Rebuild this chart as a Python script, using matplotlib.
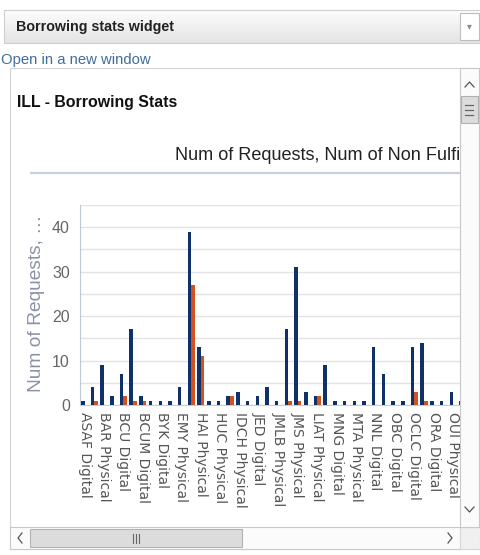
import matplotlib
matplotlib.use("Agg")
import matplotlib.pyplot as plt
import numpy as np
from matplotlib.patches import Rectangle
from matplotlib.colors import LinearSegmentedColormap

# ---------------- data ----------------
categories = [
    "ASAF Digital", "BAR Digital", "BAR Physical", "BCE Physical",
    "BCU Digital", "BCU Physical", "BCUM Digital", "BCUM Physical",
    "BYK Digital", "BYK Physical", "EMY Physical", "HAI Digital",
    "HAI Physical", "HUC Digital", "HUC Physical", "IDCH Digital",
    "IDCH Physical", "IEC Physical", "JED Digital", "JED Physical",
    "JMLB Physical", "JMS Digital", "JMS Physical", "LIAT Digital",
    "LIAT Physical", "MAX Digital", "MNG Digital", "MNG Physical",
    "MTA Physical", "NLI Digital", "NNL Digital", "NNL Physical",
    "OBC Digital", "OBC Physical", "OCLC Digital", "OCLC Physical",
    "ORA Digital", "ORA Physical", "OUI Physical", "PAL Digital",
]
num_requests = [1, 4, 9, 2, 7, 17, 2, 1, 1, 1, 4, 39, 13, 1, 1, 2, 3, 1, 2, 4,
                1, 17, 31, 3, 2, 9, 1, 1, 1, 1, 13, 7, 1, 1, 13, 14, 1, 1, 3, 1]
num_non_fulfilled = [0, 1, 0, 0, 2, 1, 1, 0, 0, 0, 0, 27, 11, 0, 0, 2, 0, 0, 0, 0,
                     0, 1, 1, 0, 2, 0, 0, 0, 0, 0, 0, 0, 0, 0, 3, 1, 0, 0, 0, 0]
y_ticks = [0, 10, 20, 30, 40]

BLUE = "#10306a"
ORANGE = "#d4521f"

W, H = 481, 555
fig = plt.figure(figsize=(W / 100, H / 100), dpi=100)
fig.patch.set_facecolor("white")

SANS = ["Liberation Sans", "DejaVu Sans"]


def px_axes(x0, y0, x1, y1, **kw):
    return fig.add_axes([x0 / W, 1 - y1 / H, (x1 - x0) / W, (y1 - y0) / H], **kw)


# ---------------- background chrome ----------------
bg = fig.add_axes([0, 0, 1, 1], zorder=0)
bg.set_xlim(0, W)
bg.set_ylim(H, 0)
bg.axis("off")

grad = LinearSegmentedColormap.from_list("g", ["#fdfdfd", "#e4e4e4"])
bg.imshow(np.linspace(0, 1, 50).reshape(-1, 1), cmap=grad, aspect="auto",
          extent=(4, 481, 43, 10), zorder=1)
bg.add_patch(Rectangle((4, 10), 477, 33, fc="none", ec="#cfcfcf", lw=0.8, zorder=2))
bg.add_patch(Rectangle((460, 13), 19, 27, fc="white", ec="#bdbdbd", lw=0.8, zorder=3))
bg.text(469.5, 26.5, "▾", ha="center", va="center", fontsize=7, color="#888888", zorder=4)
bg.text(16, 26.5, "Borrowing stats widget", ha="left", va="center", fontsize=10.3,
        fontweight="bold", color="#222222", family=SANS, zorder=4)
bg.text(1, 60, "Open in a new window", ha="left", va="center", fontsize=10.7,
        color="#3f6d9e", family=SANS, zorder=4)

bg.add_patch(Rectangle((10, 68), 470, 481, fc="white", ec="#d3d3d3", lw=0.8, zorder=1))
bg.text(17, 102, "ILL - Borrowing Stats", ha="left", va="center", fontsize=11.4,
        fontweight="bold", color="#111111", family=SANS, zorder=4)
bg.plot([30, 460], [173, 173], color="#c9cfe0", lw=1.6, zorder=4,
        solid_capstyle="butt")

# title clipped by viewport
vp = px_axes(10, 68, 460, 527, zorder=0.5)
vp.set_axis_off()
title = fig.text(175 / W, 1 - 155 / H, "Num of Requests, Num of Non Fulfilled",
                 ha="left", va="center", fontsize=13.1, color="#222222",
                 family=SANS, clip_on=True, zorder=3)
title.set_clip_box(vp.bbox)

# ---------------- chart ----------------
ax = px_axes(79.65, 205, 460, 405, zorder=1)
ax.set_facecolor("none")
x = np.arange(len(categories))
w = 0.37
ax.bar(x - w / 2, num_requests, width=w, color=BLUE, zorder=3)
ax.bar(x + w / 2, num_non_fulfilled, width=w, color=ORANGE, zorder=3)
ax.set_xlim(-0.5, -0.5 + (460 - 79.65) / 9.7)
ax.set_ylim(0, 45)
ax.set_yticks(y_ticks)
ax.set_yticks([5, 15, 25, 35, 45], minor=True)
ax.grid(True, axis="y", which="both", color="#e3e3e3", lw=1, zorder=0)
ax.set_axisbelow(True)
ax.set_yticklabels([str(v) for v in y_ticks], family=SANS, fontsize=11.5,
                   color="#666666")
ax.tick_params(axis="y", which="both", length=0, pad=7)
ax.set_xticks(x[::2])
ax.set_xticklabels(categories[::2], rotation=270, ha="center", va="top",
                   fontsize=10, color="#555555", family="DejaVu Sans")
ax.tick_params(axis="x", length=0, pad=5)
for s in ["top", "right"]:
    ax.spines[s].set_visible(False)
ax.spines["left"].set_color("#c0c8d8")
ax.spines["bottom"].set_color("#c0d0e0")

fig.text(37 / W, 1 - 303 / H, "Num of Requests, …", rotation=90, ha="center",
         va="center", fontsize=13.8, color="#8a91a8", family=SANS)

# ---------------- scrollbars (overlay) ----------------
ov = fig.add_axes([0, 0, 1, 1], zorder=5)
ov.set_facecolor("none")
ov.set_xlim(0, W)
ov.set_ylim(H, 0)
ov.axis("off")

# horizontal
ov.add_patch(Rectangle((10, 527), 450, 22, fc="#fbfbfb", ec="#c8c8c8", lw=0.8))
ov.add_patch(Rectangle((30, 529), 212, 18, fc="#dcdcdc", ec="#b3b3b3", lw=0.8))
for xx in (133, 136, 139):
    ov.plot([xx, xx], [533.5, 542.5], color="#666666", lw=0.8)
ov.plot([22, 18, 22], [533, 538, 543], color="#555555", lw=0.9)
ov.plot([448, 452, 448], [533, 538, 543], color="#555555", lw=0.9)
ov.add_patch(Rectangle((460, 527), 20, 22, fc="#f0f0f0", ec="#d6d6d6", lw=0.8))

# vertical
ov.add_patch(Rectangle((460, 68), 19, 459, fc="#fbfbfb", ec="#c8c8c8", lw=0.8))
ov.add_patch(Rectangle((461, 96), 17, 27, fc="#dcdcdc", ec="#b0b0b0", lw=0.8))
for yy in (104.5, 109.5, 114.5):
    ov.plot([465.5, 473.5], [yy, yy], color="#666666", lw=0.9)
ov.plot([465, 469.5, 474], [87, 82, 87], color="#555555", lw=0.9)
ov.plot([465, 469.5, 474], [507, 512, 507], color="#555555", lw=0.9)

fig.savefig("out.png", dpi=100, facecolor="white")
